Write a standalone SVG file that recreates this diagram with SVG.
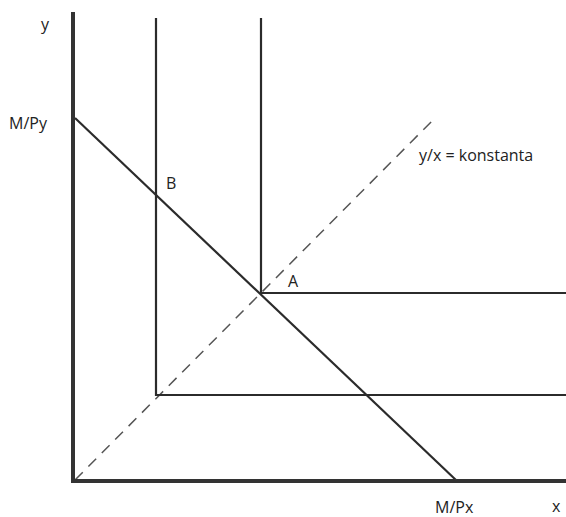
<svg xmlns="http://www.w3.org/2000/svg" width="566" height="517" viewBox="0 0 566 517">
<style>
.ax{stroke:#333;stroke-width:4;fill:none}
.ln{stroke:#2b2b2b;stroke-width:2.2;fill:none}
.ds{stroke:#555;stroke-width:1.5;stroke-dasharray:11 8;fill:none}
text{font-family:"Open Sans","Liberation Sans",sans-serif;font-size:16px;fill:#222}
</style>
<rect width="566" height="517" fill="#fff"/>
<g id="connectors">
<line class="ds" x1="75" y1="480" x2="432" y2="121"/>
<line class="ln" x1="75" y1="118" x2="457" y2="481"/>
<polyline id="curveB" class="ln" points="156,18 156,395 566,395"/>
<polyline id="curveA" class="ln" points="261,18 261,293 566,293"/>
<line class="ax" x1="73" y1="12" x2="73" y2="483"/>
<line class="ax" x1="71" y1="481" x2="566" y2="481"/>
</g>
<g id="labels">
<text x="41" y="30">y</text>
<text x="9" y="129">M/Py</text>
<text x="166" y="189">B</text>
<text x="288" y="287">A</text>
<text x="419" y="161">y/x = konstanta</text>
<text x="435" y="513">M/Px</text>
<text x="552" y="512">x</text>
</g>
</svg>
